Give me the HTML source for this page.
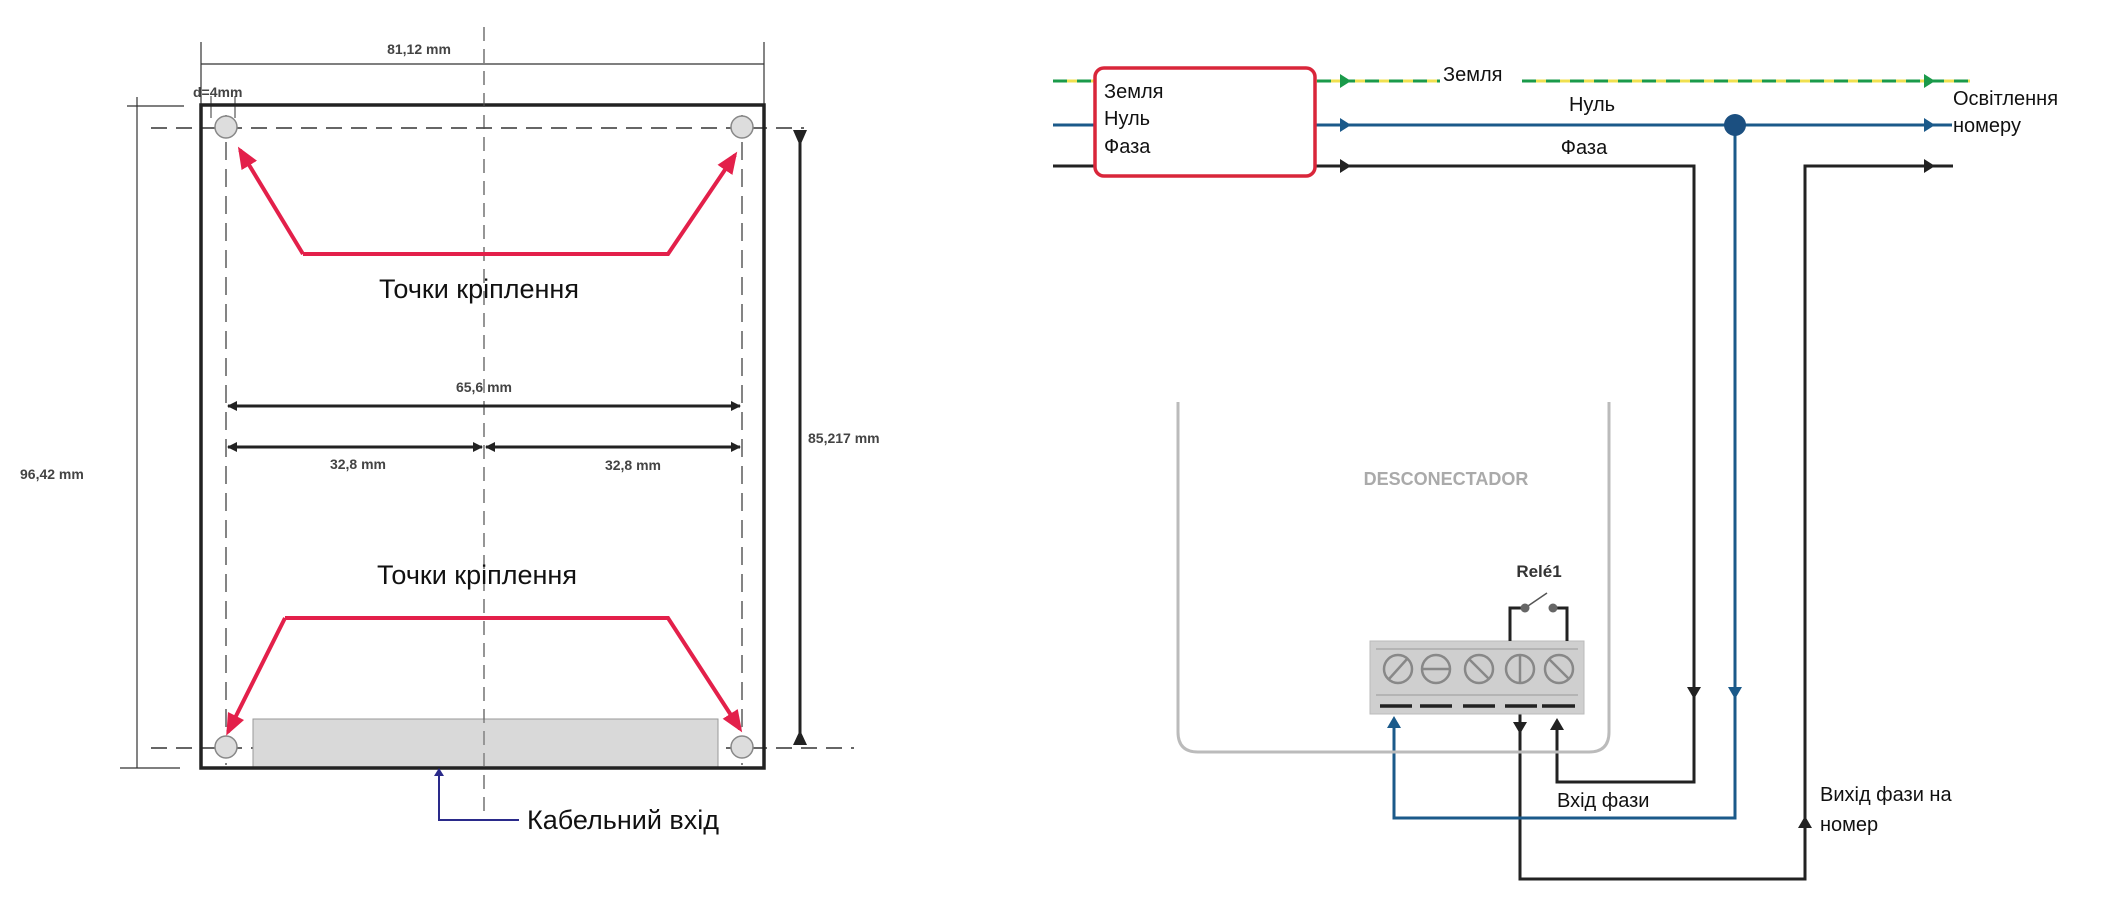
<!DOCTYPE html>
<html><head><meta charset="utf-8"><style>
html,body{margin:0;padding:0;background:#fff;}
svg{display:block;}
text{font-family:"Liberation Sans",sans-serif;}
</style></head><body>
<svg width="2107" height="924" viewBox="0 0 2107 924" xmlns="http://www.w3.org/2000/svg">
<defs>
<marker id="ab" markerWidth="10" markerHeight="10" refX="9" refY="5" orient="auto" markerUnits="userSpaceOnUse"><path d="M0,0 L10,5 L0,10 z" fill="#222"/></marker>
<marker id="abs" markerWidth="10" markerHeight="10" refX="1" refY="5" orient="auto" markerUnits="userSpaceOnUse"><path d="M10,0 L0,5 L10,10 z" fill="#222"/></marker>
<marker id="ar" markerWidth="22" markerHeight="18" refX="18" refY="9" orient="auto" markerUnits="userSpaceOnUse"><path d="M0,0 L22,9 L0,18 z" fill="#e3204a"/></marker>
</defs>
<!-- LEFT DIAGRAM -->
<g stroke="#333" fill="none">
<line x1="484" y1="27" x2="484" y2="820" stroke-dasharray="14,8" stroke-width="1.2"/>
<line x1="151" y1="128" x2="804" y2="128" stroke-dasharray="16,9" stroke-width="1.5"/>
<line x1="151" y1="748" x2="854" y2="748" stroke-dasharray="16,9" stroke-width="1.5"/>
<line x1="226" y1="115" x2="226" y2="765" stroke-dasharray="18,9" stroke-width="1.2"/>
<line x1="742" y1="115" x2="742" y2="765" stroke-dasharray="18,9" stroke-width="1.2"/>
<line x1="201" y1="42" x2="201" y2="105" stroke-width="1.2"/>
<line x1="764" y1="42" x2="764" y2="105" stroke-width="1.2"/>
<line x1="201" y1="64" x2="764" y2="64" stroke-width="1.2"/>
<line x1="137" y1="97" x2="137" y2="768" stroke-width="1.2"/>
<line x1="127" y1="106" x2="184" y2="106" stroke-width="1.2"/>
<line x1="120" y1="768" x2="180" y2="768" stroke-width="1.2"/>
<line x1="211" y1="96" x2="211" y2="118" stroke-width="1"/>
<line x1="235" y1="96" x2="235" y2="118" stroke-width="1"/>
</g>
<rect x="253" y="719" width="465" height="49" fill="#d9d9d9" stroke="#999" stroke-width="1"/>
<rect x="201" y="105" width="563" height="663" fill="none" stroke="#222" stroke-width="3.5"/>
<g fill="#ddd" stroke="#888" stroke-width="1.5">
<circle cx="226" cy="127" r="11"/><circle cx="742" cy="127" r="11"/>
<circle cx="226" cy="747" r="11"/><circle cx="742" cy="747" r="11"/>
</g>
<line x1="484" y1="27" x2="484" y2="820" stroke="#555" stroke-dasharray="14,8" stroke-width="1"/>
<g stroke="#222" stroke-width="3" fill="none">
<line x1="800" y1="132" x2="800" y2="744"/>
<line x1="228" y1="406" x2="740" y2="406" marker-start="url(#abs)" marker-end="url(#ab)"/>
<line x1="228" y1="447" x2="482" y2="447" marker-start="url(#abs)" marker-end="url(#ab)"/>
<line x1="486" y1="447" x2="740" y2="447" marker-start="url(#abs)" marker-end="url(#ab)"/>
</g>
<path d="M793,130 L807,130 L800,146 z M793,745 L807,745 L800,730 z" fill="#222"/>
<g stroke="#e3204a" stroke-width="4" fill="none">
<polyline points="303,254 668,254 735,155" marker-end="url(#ar)"/>
<polyline points="303,254 240,150" marker-end="url(#ar)"/>
<polyline points="285,618 668,618 740,729" marker-end="url(#ar)"/>
<polyline points="285,618 228,732" marker-end="url(#ar)"/>
</g>
<path d="M439,768 L434,776 L444,776 z" fill="#2a2a8a"/>
<polyline points="439,772 439,820 519,820" fill="none" stroke="#2a2a8a" stroke-width="2"/>
<g font-size="14" font-weight="bold" fill="#444">
<text x="419" y="54" text-anchor="middle">81,12 mm</text>
<text x="193" y="97">d=4mm</text>
<text x="20" y="479">96,42 mm</text>
<text x="808" y="443">85,217 mm</text>
<text x="484" y="392" text-anchor="middle">65,6 mm</text>
<text x="358" y="469" text-anchor="middle">32,8 mm</text>
<text x="633" y="470" text-anchor="middle">32,8 mm</text>
</g>
<g font-size="27" fill="#111">
<text x="479" y="298" text-anchor="middle">Точки кріплення</text>
<text x="477" y="584" text-anchor="middle">Точки кріплення</text>
<text x="527" y="829">Кабельний вхід</text>
</g>
<!-- RIGHT DIAGRAM -->
<g fill="none" stroke-width="3">
<line x1="1053" y1="81" x2="1440" y2="81" stroke="#f0e050"/>
<line x1="1053" y1="81" x2="1440" y2="81" stroke="#1a9a4a" stroke-dasharray="14,10"/>
<line x1="1522" y1="81" x2="1970" y2="81" stroke="#f0e050"/>
<line x1="1522" y1="81" x2="1970" y2="81" stroke="#1a9a4a" stroke-dasharray="14,10"/>
<line x1="1053" y1="125" x2="1952" y2="125" stroke="#1b5a8a"/>
<polyline points="1053,166 1694,166 1694,782 1557,782 1557,722" stroke="#222"/>
<polyline points="1953,166 1805,166 1805,879 1520,879 1520,712" stroke="#222"/>
<polyline points="1735,125 1735,818 1394,818 1394,722" stroke="#1b5a8a"/>
<path d="M1178,402 L1178,732 Q1178,752 1198,752 L1589,752 Q1609,752 1609,732 L1609,402" stroke="#bbb"/>
</g>
<circle cx="1735" cy="125" r="11" fill="#1b4f80"/>
<rect x="1095" y="68" width="220" height="108" rx="9" fill="#fff" stroke="#d9263a" stroke-width="3.5"/>
<g>
<path d="M1340,74 L1351,81 L1340,88 z M1924,74 L1935,81 L1924,88 z" fill="#1a9a4a"/>
<path d="M1340,118 L1351,125 L1340,132 z M1924,118 L1935,125 L1924,132 z" fill="#1b5a8a"/>
<path d="M1340,159 L1351,166 L1340,173 z M1924,159 L1935,166 L1924,173 z" fill="#222"/>
<path d="M1687,687 L1701,687 L1694,699 z" fill="#222"/>
<path d="M1728,687 L1742,687 L1735,699 z" fill="#1b5a8a"/>
<path d="M1798,828 L1812,828 L1805,816 z" fill="#222"/>
<path d="M1387,728 L1401,728 L1394,716 z" fill="#1b5a8a"/>
<path d="M1513,722 L1527,722 L1520,734 z" fill="#222"/>
<path d="M1550,730 L1564,730 L1557,718 z" fill="#222"/>
</g>
<rect x="1370" y="641" width="214" height="73" fill="#cfcfcf" stroke="#bbb" stroke-width="1"/>
<line x1="1376" y1="649" x2="1578" y2="649" stroke="#999" stroke-width="1"/>
<line x1="1376" y1="695" x2="1578" y2="695" stroke="#999" stroke-width="1"/>
<g stroke="#888" stroke-width="2.5" fill="none">
<circle cx="1398" cy="669" r="14"/><line x1="1389" y1="679" x2="1407" y2="659"/>
<circle cx="1436" cy="669" r="14"/><line x1="1422" y1="669" x2="1450" y2="669"/>
<circle cx="1479" cy="669" r="14"/><line x1="1469" y1="659" x2="1489" y2="679"/>
<circle cx="1520" cy="669" r="14"/><line x1="1520" y1="655" x2="1520" y2="683"/>
<circle cx="1559" cy="669" r="14"/><line x1="1549" y1="659" x2="1569" y2="679"/>
</g>
<g stroke="#222" stroke-width="3.5">
<line x1="1380" y1="706" x2="1412" y2="706"/><line x1="1420" y1="706" x2="1452" y2="706"/>
<line x1="1463" y1="706" x2="1495" y2="706"/><line x1="1505" y1="706" x2="1537" y2="706"/>
<line x1="1542" y1="706" x2="1575" y2="706"/>
</g>
<polyline points="1510,641 1510,608 1525,608" fill="none" stroke="#222" stroke-width="3"/>
<polyline points="1553,608 1567,608 1567,641" fill="none" stroke="#222" stroke-width="3"/>
<line x1="1525" y1="608" x2="1547" y2="593" stroke="#555" stroke-width="1.5"/>
<circle cx="1525" cy="608" r="4.5" fill="#666"/><circle cx="1553" cy="608" r="4.5" fill="#666"/>
<text x="1446" y="485" text-anchor="middle" font-size="18" font-weight="bold" fill="#aaa">DESCONECTADOR</text>
<text x="1539" y="577" text-anchor="middle" font-size="17" font-weight="bold" fill="#333">Relé1</text>
<g font-size="20" fill="#111">
<text x="1104" y="98">Земля</text>
<text x="1104" y="125">Нуль</text>
<text x="1104" y="153">Фаза</text>
<text x="1443" y="81">Земля</text>
<text x="1592" y="111" text-anchor="middle">Нуль</text>
<text x="1584" y="154" text-anchor="middle">Фаза</text>
<text x="1953" y="105">Освітлення</text>
<text x="1953" y="132">номеру</text>
<text x="1557" y="807">Вхід фази</text>
<text x="1820" y="801">Вихід фази на</text>
<text x="1820" y="831">номер</text>
</g>
</svg>
</body></html>
